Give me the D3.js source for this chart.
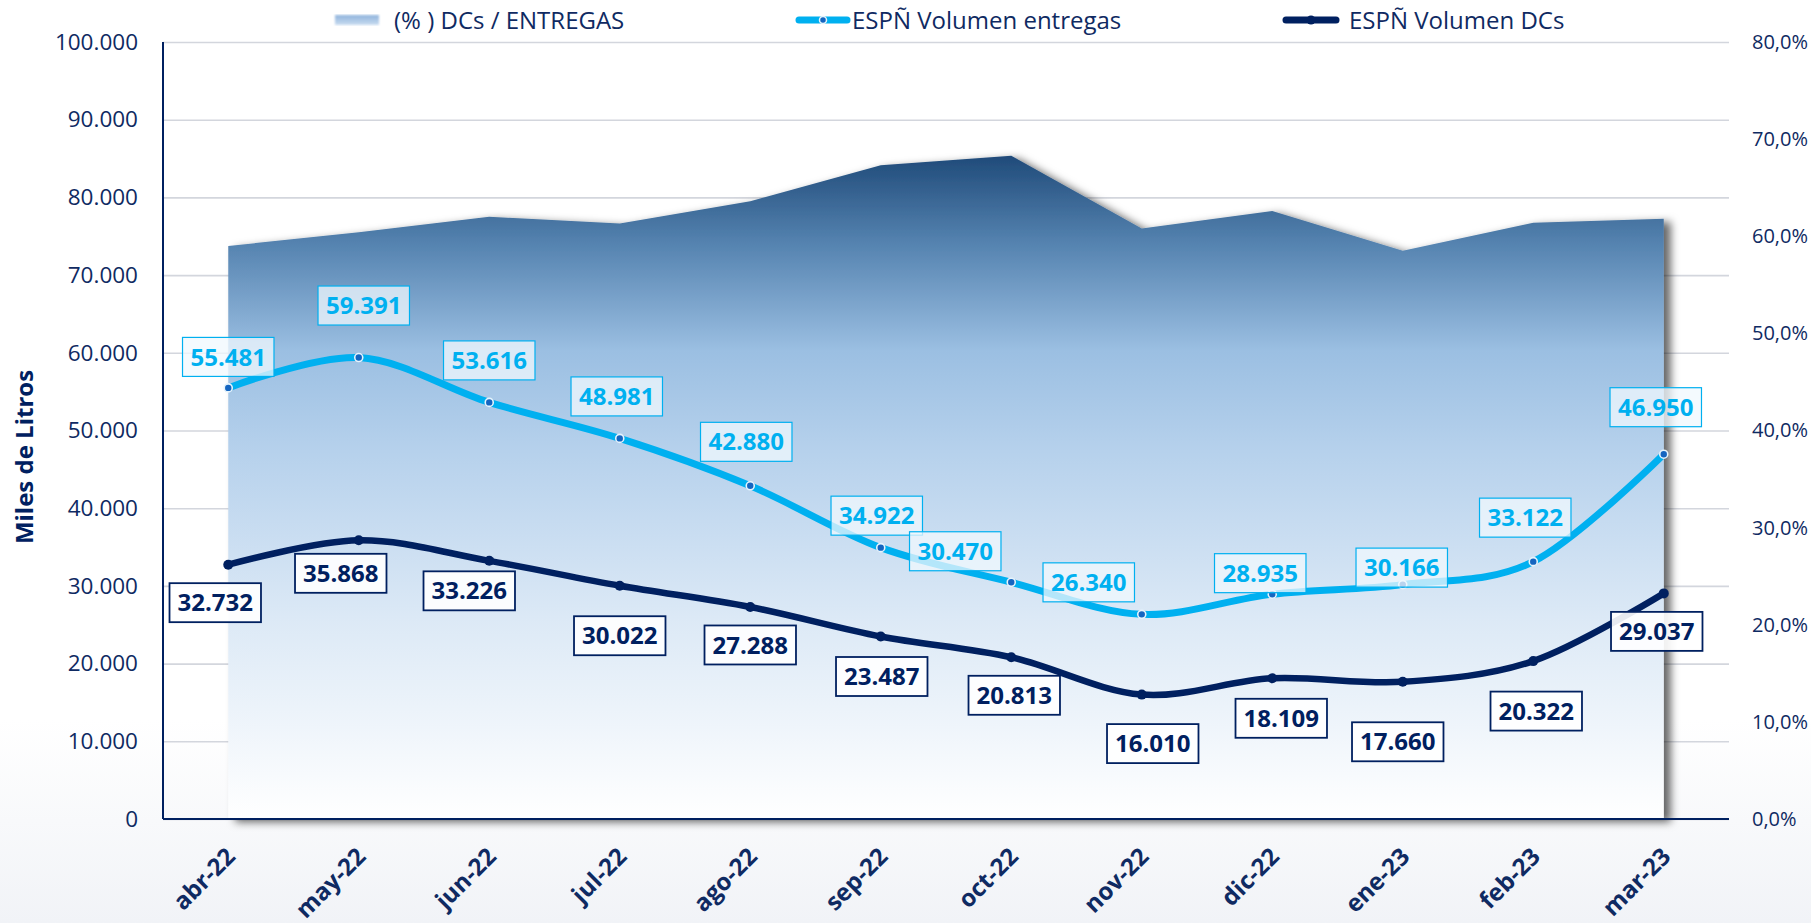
<!DOCTYPE html>
<html>
<head>
<meta charset="utf-8">
<script src="https://cdn.jsdelivr.net/npm/d3@7"></script>
<style>
  html, body { margin: 0; padding: 0; background: #fff; }
  svg { display: block; }
  svg text { font-family: "Open Sans", "Noto Sans", sans-serif; }
</style>
</head>
<body>
<svg id="chart" width="1811" height="923"></svg>
<script>
// ---------- data ----------
const categories = ["abr-22","may-22","jun-22","jul-22","ago-22","sep-22","oct-22","nov-22","dic-22","ene-23","feb-23","mar-23"];
const entregas = [55481, 59391, 53616, 48981, 42880, 34922, 30470, 26340, 28935, 30166, 33122, 46950];
const dcs = [32732, 35868, 33226, 30022, 27288, 23487, 20813, 16010, 18109, 17660, 20322, 29037];
const ratioPct = [59.0, 60.4, 62.0, 61.3, 63.6, 67.3, 68.3, 60.8, 62.6, 58.5, 61.4, 61.8];
const leftTicks = [0, 10000, 20000, 30000, 40000, 50000, 60000, 70000, 80000, 90000, 100000];
const rightTicks = [0, 10, 20, 30, 40, 50, 60, 70, 80];
const seriesNames = ["(% ) DCs / ENTREGAS", "ESPÑ Volumen entregas", "ESPÑ Volumen DCs"];
const axisTitle = "Miles de Litros";

// label placement offsets (layout, px relative to point)
const entregasLabelOffset = [[0,-31],[5,-52],[0,-42],[-3,-42],[-4,-44],[-4,-32],[-56,-31],[-53,-32],[-12,-21],[-1,-17],[-8,-44],[-8,-47]];
const dcsLabelOffset = [[-13,38],[-18,33],[-20,30],[0,50],[0,38],[1,40],[3,38],[11,49],[9,40],[-5,60],[3,50],[-7,38]];

// ---------- setup ----------
const W = 1811, H = 923;
const L = 163, R = 1729, T = 42, B = 819;
const NAVY = "#002060", LIGHT = "#00b0f0", TXT = "#0f2a62";
const FONT = '"Open Sans", "Noto Sans", sans-serif';

const loc = d3.formatLocale({decimal: ",", thousands: ".", grouping: [3], currency: ["", "€"]});
const fmtThousands = loc.format(",.0f");
const fmtPct = d => loc.format(".1f")(d) + "%";

const svg = d3.select("#chart");
const defs = svg.append("defs");

// background bottom tint
const bg = defs.append("linearGradient").attr("id","bgGrad").attr("x1",0).attr("y1",0).attr("x2",0).attr("y2",1);
bg.append("stop").attr("offset","0%").attr("stop-color","#ffffff");
bg.append("stop").attr("offset","78%").attr("stop-color","#ffffff");
bg.append("stop").attr("offset","100%").attr("stop-color","#f1f3f7");
svg.append("rect").attr("width",W).attr("height",H).attr("fill","url(#bgGrad)");

// area gradient
const ag = defs.append("linearGradient").attr("id","areaGrad")
  .attr("gradientUnits","userSpaceOnUse").attr("x1",0).attr("x2",0).attr("y1",150).attr("y2",B);
[["0%","#1c4776"],["14%","#5583b0"],["30%","#9bbfe2"],["45%","#b6d1ec"],["70%","#dce9f6"],["100%","#ffffff"]]
  .forEach(([o,c]) => ag.append("stop").attr("offset",o).attr("stop-color",c));

const lg = defs.append("linearGradient").attr("id","legGrad").attr("x1",0).attr("x2",0).attr("y1",0).attr("y2",1);
lg.append("stop").attr("offset","0%").attr("stop-color","#8fb3dc");
lg.append("stop").attr("offset","100%").attr("stop-color","#c9dcf0");

const sh = defs.append("filter").attr("id","shadow").attr("x","-5%").attr("y","-10%").attr("width","115%").attr("height","125%");
sh.append("feDropShadow").attr("dx",7).attr("dy",3).attr("stdDeviation",4)
  .attr("flood-color","#000").attr("flood-opacity",0.6);

const blur = defs.append("filter").attr("id","blur");
blur.append("feGaussianBlur").attr("stdDeviation",1.2);

// scales
const x = d3.scalePoint().domain(categories).range([L, R]).padding(0.5);
const yL = d3.scaleLinear().domain([0, 100000]).range([B, T]);
const yR = d3.scaleLinear().domain([0, 80]).range([B, T]);

// gridlines
const grid = svg.append("g").attr("transform", `translate(${L},0)`)
  .call(d3.axisLeft(yL).tickValues(leftTicks).tickSize(-(R - L)).tickFormat(""));
grid.select(".domain").remove();
grid.selectAll("line").attr("stroke","#d3d6dd").attr("stroke-width",1.6);

// area
const area = d3.area()
  .x((d,i) => x(categories[i]))
  .y0(yR(0))
  .y1(d => yR(d));
svg.append("path").datum(ratioPct)
  .attr("d", area)
  .attr("fill","url(#areaGrad)")
  .attr("filter","url(#shadow)");

// axes
const axL = svg.append("g").attr("transform", `translate(${L},0)`)
  .call(d3.axisLeft(yL).tickValues(leftTicks).tickSize(0).tickPadding(25).tickFormat(fmtThousands));
axL.attr("font-family", FONT);
axL.select(".domain").remove();
axL.selectAll("text").attr("fill",TXT).style("font-size","22.5px");

const axR = svg.append("g").attr("transform", `translate(${R},0)`)
  .call(d3.axisRight(yR).tickValues(rightTicks).tickSize(0).tickPadding(23).tickFormat(fmtPct));
axR.attr("font-family", FONT);
axR.select(".domain").remove();
axR.selectAll("text").attr("fill",TXT).style("font-size","20px");

svg.append("line").attr("x1",L).attr("x2",L).attr("y1",T).attr("y2",B).attr("stroke",NAVY).attr("stroke-width",2);
svg.append("line").attr("x1",L).attr("x2",R).attr("y1",B).attr("y2",B).attr("stroke",NAVY).attr("stroke-width",2.2);

// x axis labels
const axB = svg.append("g").attr("transform", `translate(0,${B})`)
  .call(d3.axisBottom(x).tickSize(0).tickPadding(0));
axB.attr("font-family", FONT);
axB.select(".domain").remove();
axB.selectAll("text")
  .attr("fill",TXT).style("font-size","24px").style("font-weight","bold")
  .attr("text-anchor","end").attr("dy",0).attr("y",0)
  .attr("transform","translate(8,39) rotate(-45)");

// y axis title
svg.append("text").attr("transform","translate(33,457) rotate(-90)")
  .attr("text-anchor","middle").attr("fill",NAVY)
  .style("font-size","24px").style("font-weight","bold").text(axisTitle);

// lines
const line = d3.line().x((d,i) => x(categories[i])).curve(d3.curveCardinal.tension(0));
svg.append("path").datum(entregas).attr("d", line.y(d => yL(d)))
  .attr("fill","none").attr("stroke",LIGHT).attr("stroke-width",7).attr("stroke-linecap","round");
svg.append("path").datum(dcs).attr("d", line.y(d => yL(d)))
  .attr("fill","none").attr("stroke",NAVY).attr("stroke-width",6.5).attr("stroke-linecap","round");

// markers
svg.append("g").selectAll("circle").data(entregas).join("circle")
  .attr("cx",(d,i) => x(categories[i])).attr("cy", d => yL(d)).attr("r",4)
  .attr("fill","#1565c0").attr("stroke","#e6f4fc").attr("stroke-width",1.6);
svg.append("g").selectAll("circle").data(dcs).join("circle")
  .attr("cx",(d,i) => x(categories[i])).attr("cy", d => yL(d)).attr("r",5)
  .attr("fill",NAVY);

// data labels
function drawLabels(values, offsets, color, fill, strokeW) {
  const g = svg.append("g");
  values.forEach((v,i) => {
    const cx = x(categories[i]) + offsets[i][0];
    const cy = yL(v) + offsets[i][1];
    const lab = g.append("g");
    const rect = lab.append("rect");
    const t = lab.append("text").attr("x",cx).attr("y",cy).attr("dy","0.36em")
      .attr("text-anchor","middle").attr("fill",color)
      .style("font-size","24px").style("font-weight","bold").text(fmtThousands(v));
    const bb = t.node().getBBox();
    const w = bb.width + 16, h = 39;
    rect.attr("x",cx - w/2).attr("y",cy - h/2).attr("width",w).attr("height",h)
      .attr("fill",fill).attr("stroke",color).attr("stroke-width",strokeW);
  });
}
drawLabels(entregas, entregasLabelOffset, LIGHT, "rgba(240,248,254,0.75)", 1.2);
drawLabels(dcs, dcsLabelOffset, NAVY, "rgba(255,255,255,0.9)", 1.8);

// legend
const leg = svg.append("g");
leg.append("rect").attr("x",335).attr("y",15).attr("width",44).attr("height",10)
  .attr("fill","url(#legGrad)").attr("filter","url(#blur)");
leg.append("text").attr("x",394).attr("y",21).attr("dy","0.35em").attr("fill",TXT)
  .style("font-size","24px").text(seriesNames[0]);

leg.append("line").attr("x1",799).attr("x2",847).attr("y1",20).attr("y2",20)
  .attr("stroke",LIGHT).attr("stroke-width",7).attr("stroke-linecap","round");
leg.append("circle").attr("cx",823).attr("cy",20).attr("r",3.5).attr("fill","#1565c0").attr("stroke","#e6f4fc").attr("stroke-width",1.5);
leg.append("text").attr("x",852).attr("y",21).attr("dy","0.35em").attr("fill",TXT)
  .style("font-size","24px").text(seriesNames[1]);

leg.append("line").attr("x1",1286).attr("x2",1336).attr("y1",20).attr("y2",20)
  .attr("stroke",NAVY).attr("stroke-width",7).attr("stroke-linecap","round");
leg.append("circle").attr("cx",1311).attr("cy",20).attr("r",4.5).attr("fill",NAVY);
leg.append("text").attr("x",1349).attr("y",21).attr("dy","0.35em").attr("fill",TXT)
  .style("font-size","24px").text(seriesNames[2]);
</script>
</body>
</html>
